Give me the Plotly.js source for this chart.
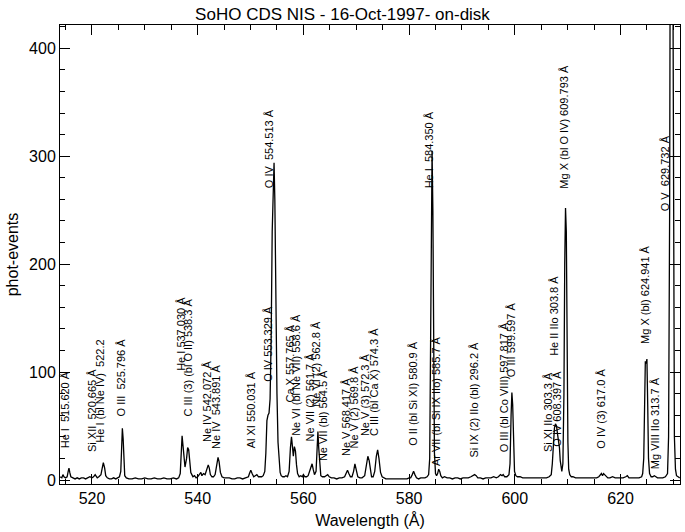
<!DOCTYPE html>
<html>
<head>
<meta charset="utf-8">
<script src="https://cdn.plot.ly/plotly-3.0.1.min.js"></script>
<style>html,body{margin:0;padding:0;background:#fff;}#chart{width:685px;height:532px;}</style>
</head>
<body>
<div id="chart"></div>
<script>
// Spectrum: wavelength (Å) and counts (phot-events)
const wavelength = [
514.0,514.3,514.5,514.7,515.0,515.3,515.5,515.65,515.8,516.0,516.4,516.8,517.2,517.6,518.0,518.4,518.8,519.2,519.6,520.0,
520.3,520.6,520.8,521.0,521.3,521.7,521.9,522.15,522.4,522.6,522.9,523.3,523.7,524.1,524.5,524.9,525.2,525.45,525.6,525.75,
525.9,526.05,526.2,526.5,527.0,527.6,528.2,528.8,529.4,530.0,530.6,531.2,531.8,532.4,533.0,533.6,534.2,534.8,535.4,536.0,
536.4,536.7,536.9,537.05,537.2,537.4,537.6,537.9,538.1,538.3,538.5,538.7,538.9,539.1,539.4,539.7,540.0,540.3,540.6,540.8,
541.1,541.4,541.7,542.0,542.2,542.4,542.7,543.0,543.3,543.6,543.85,544.05,544.3,544.6,545.0,545.5,546.0,546.5,547.0,547.5,
548.0,548.5,549.0,549.6,549.8,550.05,550.3,550.6,550.9,551.2,551.5,551.8,552.1,552.4,552.7,552.9,553.1,553.3,553.5,553.7,
553.9,554.1,554.3,554.45,554.6,554.8,555.0,555.2,555.4,555.6,555.8,556.1,556.4,556.7,557.0,557.3,557.55,557.75,557.95,558.1,
558.3,558.5,558.7,558.9,559.2,559.5,559.8,560.0,560.3,560.6,560.9,561.2,561.5,561.65,561.85,562.1,562.4,562.6,562.75,562.9,
563.1,563.3,563.6,564.0,564.3,564.6,564.9,565.3,565.8,566.3,566.8,567.3,567.8,568.1,568.35,568.6,568.9,569.2,569.5,569.75,
570.0,570.3,570.7,571.1,571.6,571.9,572.2,572.45,572.7,572.9,573.2,573.5,573.8,574.05,574.3,574.6,574.9,575.2,575.6,576.2,
576.8,577.4,578.0,578.6,579.2,579.6,580.0,580.3,580.6,580.85,581.1,581.4,581.8,582.2,582.6,583.0,583.4,583.7,583.9,584.05,
584.2,584.35,584.5,584.65,584.8,585.0,585.2,585.4,585.6,585.8,586.0,586.3,586.7,587.2,587.7,588.2,588.7,589.2,589.7,590.2,
590.7,591.2,591.7,592.1,592.4,592.7,593.0,593.5,594.0,594.5,595.0,595.5,596.0,596.5,596.9,597.3,597.6,597.8,598.1,598.5,
598.9,599.1,599.3,599.45,599.6,599.75,599.95,600.2,600.5,601.0,601.5,602.0,602.5,603.0,603.5,604.0,604.5,605.0,605.5,606.0,
606.5,606.9,607.1,607.3,607.5,607.7,607.9,608.1,608.3,608.45,608.6,608.75,608.9,609.1,609.3,609.45,609.6,609.75,609.9,610.05,
610.2,610.4,610.7,611.0,611.5,612.0,612.5,613.0,613.5,614.0,614.5,615.0,615.5,615.9,616.2,616.4,616.6,616.8,617.0,617.3,
617.6,618.0,618.5,619.0,619.5,620.0,620.5,621.0,621.3,621.6,622.0,622.5,623.0,623.5,624.0,624.2,624.4,624.55,624.7,624.85,
625.0,625.15,625.3,625.5,625.8,626.1,626.4,626.7,627.0,627.5,628.0,628.5,628.9,629.1,629.3,629.45,629.6,629.75,629.9,630.05,
630.2,630.4,630.6,630.9,631.2
];
const counts = [
3,2,5,3,2,3,8,11,7,3,2,1,2,1,2,2,1,2,3,2,
3,5,4,2,3,5,10,16,11,4,2,1,1,2,1,2,3,8,30,48,
38,12,4,2,1,1,2,1,1,2,1,1,2,1,1,2,1,1,2,1,
2,6,25,41,33,18,12,20,30,28,15,7,5,3,4,2,3,5,7,4,
6,5,9,14,11,5,3,3,5,14,21,17,7,3,2,2,2,1,1,2,
2,1,2,3,6,9,6,3,4,5,3,3,3,4,8,25,55,60,62,75,
130,230,285,294,260,160,80,35,15,7,4,3,3,4,3,8,30,40,30,22,
31,27,14,6,3,4,3,5,3,3,4,8,14,15,10,5,8,30,45,30,
10,4,3,3,4,5,3,2,2,1,2,2,3,6,9,6,3,3,8,15,
9,3,2,2,4,12,22,18,6,3,3,8,22,28,20,7,3,2,1,1,
1,1,1,1,1,1,2,2,5,8,5,2,1,2,2,2,3,5,20,120,
280,305,250,100,25,6,4,6,10,8,4,2,3,2,2,1,2,2,1,2,
2,2,3,4,5,4,2,2,1,2,2,2,3,2,3,5,4,5,3,3,
5,15,60,81,70,30,8,4,3,3,2,2,2,2,2,2,2,2,2,2,
3,5,15,35,48,52,50,42,36,30,18,9,8,15,80,200,252,230,120,35,
10,5,3,3,2,2,2,2,2,2,2,2,2,3,5,6,4,6,5,3,
2,2,3,2,2,2,2,3,4,2,2,2,2,2,3,6,20,70,110,108,
112,70,20,6,3,3,4,3,2,2,2,3,6,40,250,600,720,700,500,200,
40,10,4,3,2
];

// Line identifications: text, label position (Å) and label base (counts)
const lineLabels = [
"He I  515.620 Å","Si XII  520.665 Å","He I (bl Ne IV)  522.2","O III  525.796 Å",
"He I 537.030 Å","C III (3) (bl O II) 538.3 Å","Ne IV 542.072 Å","Ne IV  543.891 Å",
"Al XI 550.031 Å","O IV 553.329 Å","O IV  554.513 Å","Ca X 557.765 Å",
"Ne VI (bl Ne VII) 558.6 Å","Ne VII (2) 561.7 Å","Ne VI (2) 562.8 Å","Ne VII (bl) 564.5 Å",
"Ne V 568.417 Å","Ne V (2) 569.8 Å","Ne V (3) 572.3 Å","C III (bl Ca X) 574.3 Å",
"O II (bl Si XI) 580.9 Å","He I  584.350 Å","Ar VII (bl Si IX IIo) 585.7 Å","Si IX (2) IIo (bl) 296.2 Å",
"O III (bl Co VIII) 597.817 Å","O III 599.597 Å","Si XI IIo 303.3 Å","He II IIo 303.8 Å",
"O IV 608.397 Å","Mg X (bl O IV) 609.793 Å","O IV (3) 617.0 Å","Mg X (bl) 624.941 Å",
"Mg VIII IIo 313.7 Å","O V  629.732 Å"
];
const labelWave = [
514.9,519.9,521.5,525.5,
536.8,538.2,541.8,543.5,
550.1,553.3,553.5,557.5,
558.6,561.2,562.4,563.7,
568.2,569.6,571.8,573.4,
580.7,583.8,585.1,592.3,
598.0,599.3,606.3,607.4,
608.0,609.3,616.3,624.6,
626.5,628.4
];
const labelBase = [
28,25,34,58,
100,58,34,28,
28,90,269,71,
40,35,67,17,
21,28,40,40,
31,269,12,20,
25,94,25,114,
30,269,28,125,
9,248
];

const FONT = "Liberation Sans, Arial, sans-serif";

const annotations = lineLabels.map((t, i) => ({
  text: t, x: labelWave[i], y: labelBase[i], xref: "x", yref: "y",
  textangle: -90, showarrow: false, xanchor: "center", yanchor: "bottom",
  font: {family: FONT, size: 11, color: "#000"}, borderpad: 0
}));

const trace = {
  x: wavelength, y: counts, type: "scatter", mode: "lines",
  line: {color: "#000", width: 1.3}, hoverinfo: "skip", cliponaxis: true
};

const axisCommon = {
  showgrid: false, zeroline: false, showline: true, linecolor: "#000", linewidth: 1,
  mirror: "ticks", ticks: "inside", tickcolor: "#000", tickwidth: 1, ticklen: 10,
  tickfont: {family: FONT, size: 16, color: "#000"}
};

const layout = {
  width: 685, height: 532,
  margin: {l: 60, r: 5, t: 25, b: 48},
  paper_bgcolor: "#fff", plot_bgcolor: "#fff",
  showlegend: false,
  title: {text: "SoHO CDS NIS - 16-Oct-1997- on-disk", x: 0.5, xanchor: "center", y: 0.985, yanchor: "top",
          font: {family: FONT, size: 17, color: "#000"}},
  xaxis: Object.assign({}, axisCommon, {
    range: [513.95, 631.26], tick0: 520, dtick: 20,
    minor: {dtick: 5, tick0: 520, ticks: "inside", ticklen: 5, tickcolor: "#000", showgrid: false},
    title: {text: "Wavelength (Å)", standoff: 8, font: {family: FONT, size: 16, color: "#000"}}
  }),
  yaxis: Object.assign({}, axisCommon, {
    range: [-3.7, 421.6], tick0: 0, dtick: 100,
    minor: {dtick: 20, tick0: 0, ticks: "inside", ticklen: 5, tickcolor: "#000", showgrid: false},
    title: {text: "phot-events", standoff: 6, font: {family: FONT, size: 16, color: "#000"}}
  }),
  annotations: annotations
};

Plotly.newPlot("chart", [trace], layout, {displayModeBar: false, staticPlot: true});
</script>
</body>
</html>
